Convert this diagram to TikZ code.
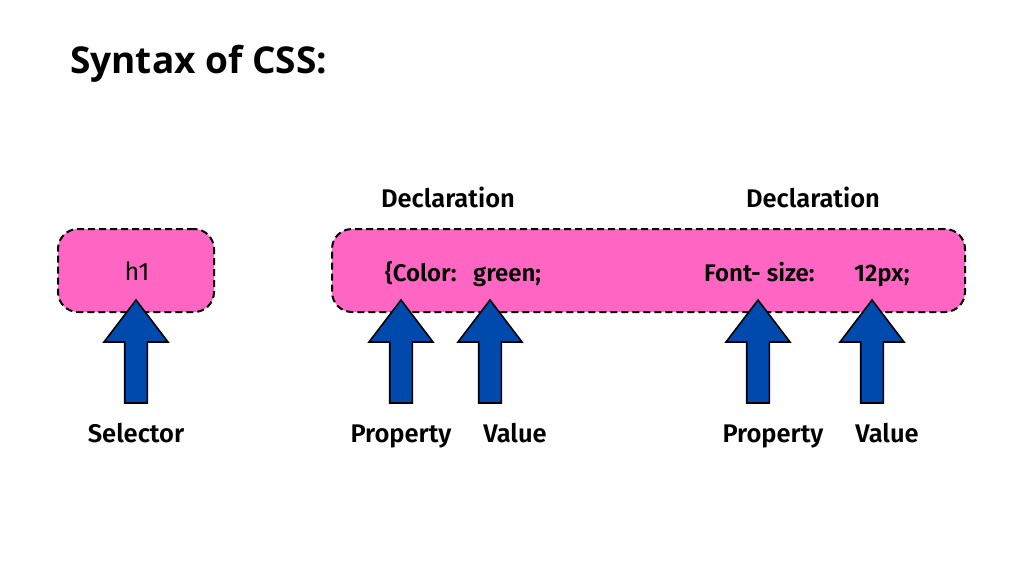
\documentclass[tikz,border=0pt]{standalone}
\usepackage{fontspec}
\setmainfont{Fira Sans}[BoldFont=Fira Sans SemiBold]
\newfontfamily\titlefont{Open Sans}
\usetikzlibrary{positioning}
\definecolor{cssPink}{HTML}{FF66C4}
\definecolor{cssBlue}{HTML}{004AAD}
\tikzset{
  rulebox/.style={draw=black, fill=cssPink, line width=2pt, dash pattern=on 7pt off 4pt,
    rounded corners=20pt, inner sep=0pt},
  boxtext/.style={font=\fontsize{24}{28}\selectfont\bfseries, anchor=base west, inner sep=0pt},
  lbl/.style={font=\fontsize{25.5}{30}\selectfont\bfseries, anchor=base, inner sep=0pt},
  uparrow/.style={draw=black, fill=cssBlue, line width=1.6pt, line join=miter}
}
\begin{document}
\begin{tikzpicture}[x=1pt,y=-1pt]
  \useasboundingbox[fill=white] (0,0) rectangle (1024,576);
  \node[anchor=base west, inner sep=0pt, font=\fontsize{37}{44}\selectfont\titlefont\bfseries] (title) at (70,73) {Syntax of CSS:};
  % the two rule boxes
  \node[rulebox, minimum width=156pt, minimum height=83pt] (sel) at (136,270.5) {};
  \node[font=\fontsize{25}{30}\selectfont, anchor=base, inner sep=0pt] (h1) at (137,280) {h1};
  \node[rulebox, minimum width=633pt, minimum height=83pt] (decl) at (648.5,270.5) {};
  \node[boxtext] (prop1) at (385,281) {\{Color:};
  \node[boxtext] (val1) at (473,281) {green;};
  \node[boxtext] (prop2) at (704,281) {Font- size:};
  \node[boxtext] (val2) at (854,281) {12px;};
  \node[lbl] (declA) at (448,207) {Declaration};
  \node[lbl] (declB) at (813,207) {Declaration};
  % arrows and their labels
  \foreach \x/\n/\l/\lx in {136/a/Selector/136, 401/b/Property/401, 490/c/Value/515, 758/d/Property/773, 872/e/Value/887} {
    \coordinate (tip\n) at (\x,300);
    \draw[uparrow] (tip\n) -- ++(32,42) -- ++(-20.7,0) -- ++(0,61) -- ++(-22.6,0) -- ++(0,-61) -- ++(-20.7,0) -- cycle;
    \node[lbl] (lab\n) at (\lx,442) {\l};
  }
\end{tikzpicture}
\end{document}
